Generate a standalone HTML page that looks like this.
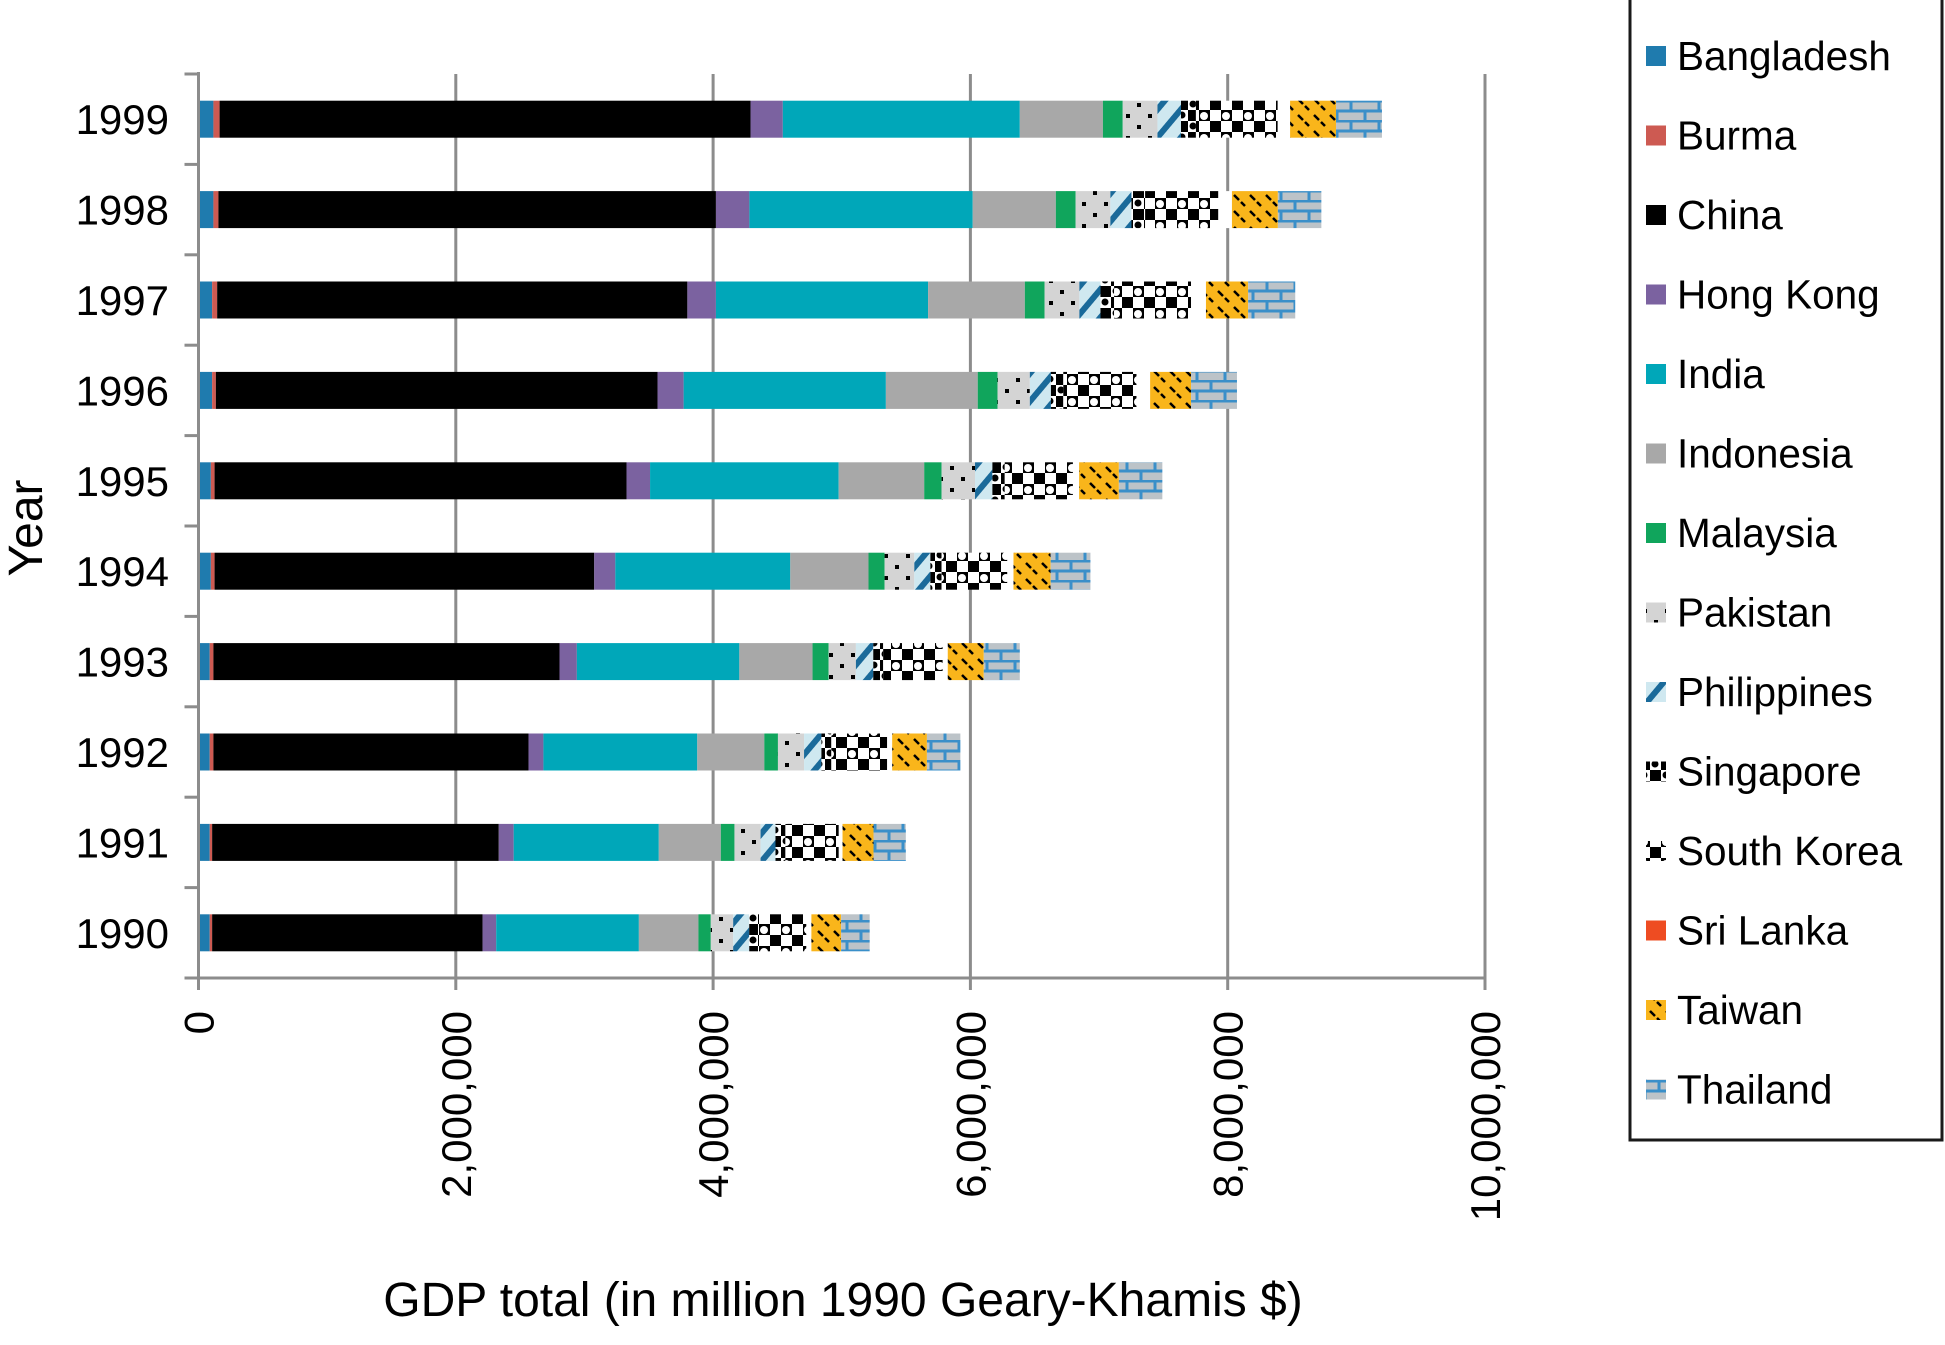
<!DOCTYPE html>
<html><head><meta charset="utf-8"><style>
body{margin:0;background:#fff;width:1945px;height:1340px;overflow:hidden;font-family:"Liberation Sans",sans-serif}
</style></head><body>
<svg id="chart" width="1945" height="1340" xmlns="http://www.w3.org/2000/svg" font-family="Liberation Sans, sans-serif">
<defs>
<pattern id="p-pak" width="22" height="22" patternUnits="userSpaceOnUse"><rect width="22" height="22" fill="#d4d4d4"/><rect x="4" y="4" width="4" height="4" fill="#000"/><rect x="15" y="15" width="4" height="4" fill="#000"/></pattern>
<pattern id="p-phi" width="18" height="18" patternUnits="userSpaceOnUse" patternTransform="rotate(40)"><rect width="18" height="18" fill="#cfe8f0"/><rect width="6" height="18" fill="#1a6a9a"/></pattern>
<pattern id="p-sin" width="22" height="22" patternUnits="userSpaceOnUse"><rect width="22" height="22" fill="#fff"/><rect width="11" height="11" fill="#000"/><rect x="11" y="11" width="11" height="11" fill="#000"/><circle cx="16" cy="5" r="3.5" fill="#000"/><circle cx="5" cy="16" r="3.5" fill="#000"/></pattern>
<pattern id="p-kor" width="22" height="22" patternUnits="userSpaceOnUse"><rect width="22" height="22" fill="#000"/><rect width="11" height="11" fill="#fff"/><rect x="11" y="11" width="11" height="11" fill="#fff"/><circle cx="16" cy="6" r="4" fill="#fff"/></pattern>
<pattern id="p-tai" width="16" height="16" patternUnits="userSpaceOnUse"><rect width="16" height="16" fill="#f9b51b"/><path d="M2 3 L7 8 M9 10 L13 14" stroke="#000" stroke-width="2.5"/></pattern>
<pattern id="p-tha" width="28" height="20" patternUnits="userSpaceOnUse"><rect width="28" height="20" fill="#bcc3c8"/><path d="M0 1 H28 M0 11 H28 M7 1 V11 M21 11 V20" stroke="#3a8fc9" stroke-width="3"/></pattern>
</defs>
<g id="grid"></g><g id="bars"></g><g id="axes"></g><g id="legend"></g>
<text transform="translate(42,528) rotate(-90)" text-anchor="middle" font-size="48">Year</text>
<text x="843" y="1316" text-anchor="middle" font-size="48">GDP total (in million 1990 Geary-Khamis $)</text>
</svg>
<script>
const years=["1990","1991","1992","1993","1994","1995","1996","1997","1998","1999"];
const countries=["Bangladesh","Burma","China","Hong Kong","India","Indonesia","Malaysia","Pakistan","Philippines","Singapore","South Korea","Sri Lanka","Taiwan","Thailand"];
const bangladesh=[87,87,87,87,96,96,106,106,116,116];
const burma=[19,19,29,29,29,29,29,39,39,48];
const china=[2102,2228,2449,2690,2951,3202,3433,3655,3867,4127];
const hongKong=[106,116,116,135,164,183,203,222,260,251];
const india=[1109,1128,1196,1263,1360,1466,1572,1649,1736,1842];
const indonesia=[463,482,521,569,608,665,714,752,646,646];
const malaysia=[96,106,106,125,125,135,154,154,154,154];
const pakistan=[174,203,203,212,231,260,251,270,270,270];
const philippines=[125,116,135,135,125,135,164,164,164,183];
const singapore=[68,77,77,77,87,96,96,106,106,116];
const southKorea=[376,415,434,463,511,530,569,598,569,636];
const sriLanka=[39,29,39,39,48,48,106,116,106,96];
const taiwan=[231,241,270,280,289,309,318,328,357,357];
const thailand=[222,251,260,280,309,338,357,366,338,357];
const xTicks=[0,2000000,4000000,6000000,8000000,10000000];
const xTickLabels=["0","2,000,000","4,000,000","6,000,000","8,000,000","10,000,000"];
const series=[bangladesh,burma,china,hongKong,india,indonesia,malaysia,pakistan,philippines,singapore,southKorea,sriLanka,taiwan,thailand];
const fills=["#1f7bae","#cd5a52","#000","#7b62a0","#00a7b9","#a8a8a8","#10a55c","url(#p-pak)","url(#p-phi)","url(#p-sin)","url(#p-kor)","#ee4c22","url(#p-tai)","url(#p-tha)"];
const NS="http://www.w3.org/2000/svg";
const X0=198.5,X1=1485,Y0=74,Y1=978,XMAX=10000000;
const xs=v=>X0+(v/XMAX)*(X1-X0);
const band=(Y1-Y0)/years.length;
const yc=i=>Y1-band*(i+0.5);
function mk(tag,attrs,parent){const e=document.createElementNS(NS,tag);for(const k in attrs)e.setAttribute(k,attrs[k]);parent.appendChild(e);return e;}
const grid=document.getElementById('grid'),bars=document.getElementById('bars'),axes=document.getElementById('axes'),leg=document.getElementById('legend');
xTicks.forEach((t,i)=>{
  if(i>0){const l=mk('line',{x1:xs(t),x2:xs(t),y1:Y0,y2:Y1,stroke:'#8c8c8c','stroke-width':3},grid);
  
  }
  const tk=mk('line',{x1:xs(t),x2:xs(t),y1:Y1,y2:Y1+12,stroke:'#8c8c8c','stroke-width':3},axes);
  
  
  const tx=mk('text',{transform:`translate(${xs(t)+15},${Y1+33}) rotate(-90)`,'text-anchor':'end','font-size':42},axes);
  tx.textContent=xTickLabels[i];
  
  
});
const ax=mk('path',{d:`M${X0} ${Y0-2} V${Y1} H${X1}`,fill:'none',stroke:'#8c8c8c','stroke-width':3},axes);


for(let i=0;i<=years.length;i++){
  const y=Y1-band*i;
  const t=mk('line',{x1:X0-14,x2:X0,y1:y,y2:y,stroke:'#8c8c8c','stroke-width':3},axes);
  
  
}
const BH=37;
years.forEach((yr,i)=>{
  const lab=mk('text',{x:169,y:yc(i)+15,'text-anchor':'end','font-size':42},axes);
  lab.textContent=yr;
  
  
  let cum=0;
  series.forEach((s,k)=>{
    const v=s[i]*1000;
    const fill=k===11?'#fff':fills[k];
    const r=mk('rect',{x:xs(cum),y:yc(i)-BH/2,width:Math.max(0,xs(cum+v)-xs(cum)),height:BH,fill:fill},bars);
    
    
    cum+=v;
  });
});
const lb=mk('rect',{x:1630,y:-3,width:312,height:1143,fill:'#fff',stroke:'#1a1a1a','stroke-width':3},leg);


countries.forEach((c,k)=>{
  const y=56+k*79.5;
  const sw=mk('rect',{x:1646,y:y-10,width:20,height:20,fill:fills[k]},leg);
  
  
  const t=mk('text',{x:1677,y:y+14,'font-size':40.5},leg);
  t.textContent=c;
  
  
});
</script>
</body></html>
